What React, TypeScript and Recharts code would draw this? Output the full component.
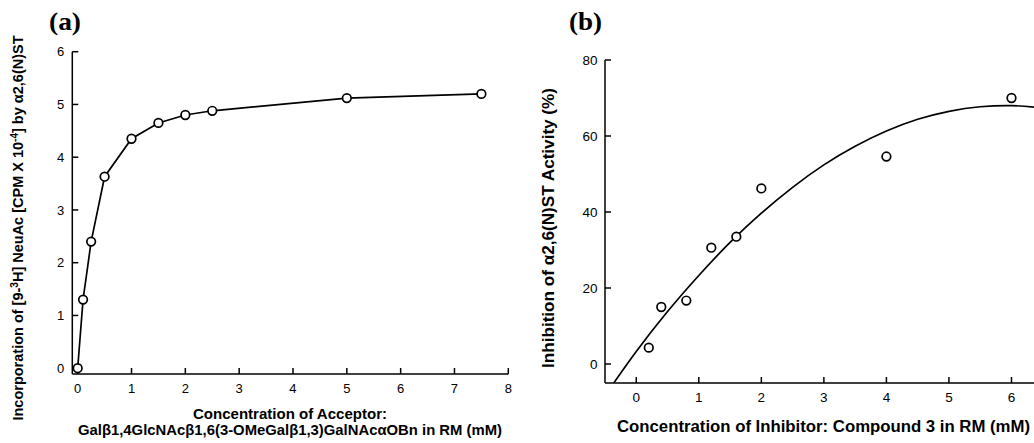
import React from 'react';
import { ComposedChart, Line, Scatter, XAxis, YAxis, Label } from 'recharts';

// Panel (a): acceptor concentration (mM) vs incorporation (CPM x 10^-4)
const acceptorConc = [0, 0.1, 0.25, 0.5, 1, 1.5, 2, 2.5, 5, 7.5];
const incorporation = [0, 1.3, 2.4, 3.63, 4.35, 4.65, 4.8, 4.88, 5.12, 5.2];
const ticksA_X = [0, 1, 2, 3, 4, 5, 6, 7, 8];
const ticksA_Y = [0, 1, 2, 3, 4, 5, 6];

// Panel (b): inhibitor concentration (mM) vs inhibition (%)
const inhibitorConc = [0.2, 0.4, 0.8, 1.2, 1.6, 2, 4, 6];
const inhibition = [4.3, 15, 16.7, 30.6, 33.5, 46.2, 54.6, 70];
// fitted curve
const curveX = [-0.36, 0, 0.5, 1, 1.5, 2, 2.5, 3, 3.5, 4, 4.5, 5, 5.5, 6, 6.36];
const curveY = [-5, 3.3, 13.8, 23.3, 32.0, 39.7, 46.5, 52.4, 57.3, 61.3, 64.4, 66.5, 67.7, 68.0, 67.6];
const ticksB_X = [0, 1, 2, 3, 4, 5, 6];
const ticksB_Y = [0, 20, 40, 60, 80];

const dataA = acceptorConc.map((x, i) => ({ x, y: incorporation[i] }));
const dataB = inhibitorConc.map((x, i) => ({ x, y: inhibition[i] }));
const curveB = curveX.map((x, i) => ({ x, y: curveY[i] }));

const SANS = '"Liberation Sans", Arial, sans-serif';
const SERIF = '"Liberation Serif", "Times New Roman", serif';
const tickStyleA = { fontFamily: SANS, fontSize: 13, fill: '#000' };
const tickStyleB = { fontFamily: SANS, fontSize: 13.5, fill: '#000' };
const axisLine = { stroke: '#000', strokeWidth: 1.5 };
const tickLine = { stroke: '#000', strokeWidth: 1.5 };

const OpenDot = (props: any) => {
  const { cx, cy } = props;
  if (cx == null || cy == null) return null;
  return <circle cx={cx} cy={cy} r={4.3} fill="#fff" stroke="#000" strokeWidth={1.7} />;
};

const PanelA = () => (
  <ComposedChart
    width={520}
    height={443}
    margin={{ top: 51.7, right: 11.7, bottom: 0, left: 12 }}
    style={{ position: 'absolute', left: 0, top: 0 }}
  >
    <XAxis
      type="number"
      dataKey="x"
      domain={[-0.1, 8]}
      ticks={ticksA_X}
      allowDataOverflow
      axisLine={axisLine}
      tickLine={tickLine}
      tickSize={-6}
      tickMargin={15.5}
      tick={tickStyleA}
      height={69}
    >
      <Label
        content={() => (
          <g fontFamily={SANS} fontWeight="bold" fontSize={15} fill="#000">
            <text x={290} y={419} textAnchor="middle" textLength={194} lengthAdjust="spacingAndGlyphs">Concentration of Acceptor:</text>
            <text x={290} y={434.5} textAnchor="middle" textLength={424} lengthAdjust="spacingAndGlyphs">Galβ1,4GlcNAcβ1,6(3-OMeGalβ1,3)GalNAcαOBn in RM (mM)</text>
          </g>
        )}
      />
    </XAxis>
    <YAxis
      type="number"
      dataKey="y"
      domain={[-0.11, 6]}
      ticks={ticksA_Y}
      allowDataOverflow
      axisLine={axisLine}
      tickLine={tickLine}
      tickSize={-6}
      tickMargin={14}
      tick={tickStyleA}
      width={60.3}
    >
      <Label
        content={() => (
          <text
            x={23}
            y={228}
            transform="rotate(-90 23 228)"
            textAnchor="middle"
            fontFamily={SANS}
            fontWeight="bold"
            fontSize={14.5}
            fill="#000"
          >
            <tspan>Incorporation of [9-</tspan>
            <tspan fontSize={10} dy={-5}>3</tspan>
            <tspan dy={5}>H] NeuAc [CPM X 10</tspan>
            <tspan fontSize={10} dy={-5}>-4</tspan>
            <tspan dy={5}>] by α2,6(N)ST</tspan>
          </text>
        )}
      />
    </YAxis>
    <Line
      data={dataA}
      dataKey="y"
      type="linear"
      stroke="#000"
      strokeWidth={1.7}
      dot={<OpenDot />}
      activeDot={false}
      isAnimationActive={false}
    />
  </ComposedChart>
);

const PanelB = () => (
  <ComposedChart
    width={514}
    height={443}
    margin={{ top: 60, right: 0, bottom: 0, left: 12 }}
    style={{ position: 'absolute', left: 520, top: 0 }}
  >
    <XAxis
      type="number"
      dataKey="x"
      domain={[-0.5, 6.36]}
      ticks={ticksB_X}
      allowDataOverflow
      axisLine={axisLine}
      tickLine={tickLine}
      tickSize={-6}
      tickMargin={15}
      tick={tickStyleB}
      height={60}
    >
      <Label
        content={() => (
          <text x={303.5} y={432} textAnchor="middle" fontFamily={SANS} fontWeight="bold" fontSize={16} fill="#000" textLength={413} lengthAdjust="spacingAndGlyphs">
            Concentration of Inhibitor: Compound 3 in RM (mM)
          </text>
        )}
      />
    </XAxis>
    <YAxis
      type="number"
      dataKey="y"
      domain={[-5, 80]}
      ticks={ticksB_Y}
      allowDataOverflow
      axisLine={axisLine}
      tickLine={tickLine}
      tickSize={-6}
      tickMargin={13.5}
      tick={tickStyleB}
      width={73}
    >
      <Label
        content={() => (
          <text
            x={34}
            y={228}
            transform="rotate(-90 34 228)"
            textAnchor="middle"
            fontFamily={SANS}
            fontWeight="bold"
            fontSize={16}
            fill="#000"
            textLength={280}
            lengthAdjust="spacingAndGlyphs"
          >
            Inhibition of α2,6(N)ST Activity (%)
          </text>
        )}
      />
    </YAxis>
    <Line
      data={curveB}
      dataKey="y"
      type="natural"
      stroke="#000"
      strokeWidth={1.7}
      dot={false}
      activeDot={false}
      isAnimationActive={false}
    />
    <Scatter data={dataB} dataKey="y" shape={<OpenDot />} isAnimationActive={false} />
  </ComposedChart>
);

export default function App() {
  return (
    <div style={{ position: 'absolute', left: 0, top: 0, width: 1034, height: 443, background: '#fff', overflow: 'hidden' }}>
      <PanelA />
      <PanelB />
      <svg width={1034} height={443} style={{ position: 'absolute', left: 0, top: 0, pointerEvents: 'none' }}>
        <text x={49} y={30} fontFamily={SERIF} fontWeight="bold" fontSize={25} fill="#000" textLength={32} lengthAdjust="spacingAndGlyphs">(a)</text>
        <text x={569} y={30} fontFamily={SERIF} fontWeight="bold" fontSize={25} fill="#000" textLength={33} lengthAdjust="spacingAndGlyphs">(b)</text>
      </svg>
    </div>
  );
}
